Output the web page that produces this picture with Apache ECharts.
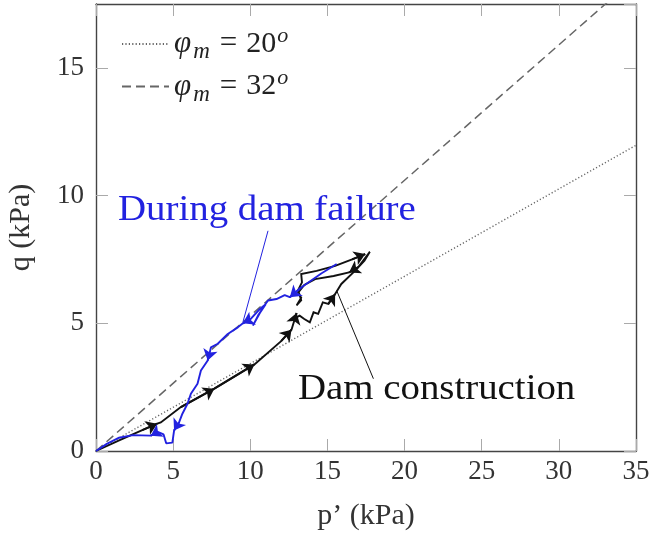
<!DOCTYPE html>
<html><head><meta charset="utf-8">
<script src="https://cdn.jsdelivr.net/npm/echarts@6/dist/echarts.min.js"></script>
<style>html,body{margin:0;padding:0;background:#fff}#c{width:652px;height:533px}</style>
</head><body><div id="c"></div>
<script>
// ---- data ----
const xTickValues = [0, 5, 10, 15, 20, 25, 30, 35];
const yTickValues = [0, 5, 10, 15];
const phiAngles = ['20', '32'];
const phi20Line = [[0, 0], [35, 11.97]];
const phi32Line = [[0, 0], [35, 18.55]];

const constructionP = [0, 1.5, 3.0, 3.97, 4.2, 5.5, 7.67, 10.27, 12.0, 12.67, 12.85, 13.0, 12.9, 13.2, 13.5, 13.86, 14.1, 14.4, 14.7, 15.06, 15.5, 15.9, 16.8, 17.4, 17.75, 17.0, 16.4, 15.4, 14.2, 13.5, 13.1, 13.3, 13.0, 13.3, 13.1, 13.35, 13.3, 14.3, 15.5, 16.6, 17.45];
const constructionQ = [0, 0.42, 0.82, 1.07, 1.12, 1.72, 2.44, 3.39, 4.3, 4.75, 5.1, 5.4, 5.2, 5.3, 5.17, 5.04, 5.43, 5.37, 5.82, 5.76, 6.15, 6.54, 7.06, 7.45, 7.8, 7.2, 6.99, 6.85, 6.73, 6.5, 6.2, 6.0, 5.7, 5.9, 6.3, 6.6, 6.93, 7.05, 7.25, 7.5, 7.71];
const constructionArrowIdx = [3, 6, 7, 9, 11, 20, 26, 40];

const failureP = [15.6, 14.6, 13.3, 12.56, 12.23, 11.7, 11.15, 10.8, 10.17, 10.5, 11.0, 10.6, 10.0, 9.52, 9.19, 8.54, 7.89, 7.45, 7.35, 7.24, 6.8, 6.58, 6.15, 5.93, 5.6, 5.39, 5.06, 4.95, 4.55, 4.38, 4.0, 3.55, 2.4, 1.5, 0.7, 0];
const failureQ = [7.32, 6.95, 6.4, 6.02, 6.1, 5.95, 5.89, 5.6, 4.91, 5.3, 5.75, 5.55, 5.15, 5.0, 4.84, 4.58, 4.2, 4.06, 3.8, 3.54, 3.15, 2.63, 2.24, 1.85, 1.46, 1.13, 0.8, 0.33, 0.3, 0.65, 0.75, 0.6, 0.62, 0.52, 0.28, 0];
const failureArrowIdx = [3, 13, 19, 26, 31];

const failureLeader = [[11.15, 8.62], [9.52, 5.04]];
const constructionLeader = [[17.98, 2.83], [15.6, 6.28]];

const failureLabel = 'During dam failure';
const constructionLabel = 'Dam construction';

// ---- build ----
const zip = (a, b) => a.map((v, i) => [v, b[i]]);
const constructionPath = zip(constructionP, constructionQ);
const failurePath = zip(failureP, failureQ);
const arrowSegs = (path, idx) => idx.map(i => ({ coords: [path[i - 1], path[i]] }));

const FONT = 'Liberation Serif';
const BLUE = '#2222e0';
const BLACK = '#111';
const seriesNames = phiAngles.map(a => 'phi' + a);

const axisCommonX = {
  type: 'value', min: 0, max: 35, interval: 5,
  axisLine: { onZero: false, lineStyle: { color: '#444', width: 1.4 } },
  axisTick: { inside: true, length: 12, lineStyle: { color: '#aaa', width: 1 } },
  splitLine: { show: false }
};
const axisCommonY = {
  type: 'value', min: 0, max: 17.5, interval: 5,
  axisLine: { onZero: false, lineStyle: { color: '#444', width: 1.4 } },
  axisTick: { inside: true, length: 12, lineStyle: { color: '#aaa', width: 1 } },
  splitLine: { show: false }
};

const chart = echarts.init(document.getElementById('c'));
chart.setOption({
  animation: false,
  backgroundColor: '#fff',
  grid: { left: 96, right: 16, top: 4, bottom: 82, containLabel: false, outerBoundsMode: 'none' },
  legend: {
    orient: 'vertical', left: 116, top: 20,
    itemWidth: 47, itemHeight: 14, itemGap: 4,
    data: seriesNames,
    itemStyle: { opacity: 0 },
    formatter: name => {
      const a = phiAngles[seriesNames.indexOf(name)];
      return '{i|φ}{s|m}{e|=}{n|' + a + '}{p|o}';
    },
    textStyle: {
      color: '#222',
      rich: {
        i: { fontFamily: FONT, fontStyle: 'italic', fontSize: 31, color: '#222' },
        s: { fontFamily: FONT, fontStyle: 'italic', fontSize: 23, color: '#222', padding: [16, 0, 0, 2] },
        e: { fontFamily: FONT, fontSize: 31, color: '#222', padding: [0, 9, 0, 10] },
        n: { fontFamily: FONT, fontSize: 30, color: '#222' },
        p: { fontFamily: FONT, fontStyle: 'italic', fontSize: 22, color: '#222', padding: [0, 0, 16, 1] }
      }
    }
  },
  xAxis: [
    Object.assign({}, axisCommonX, {
      position: 'bottom',
      axisLabel: { fontFamily: FONT, fontSize: 27, color: '#333', margin: 7,
        formatter: v => xTickValues.includes(v) ? String(v) : '' },
      name: 'p’ (kPa)', nameLocation: 'middle', nameGap: 50,
      nameTextStyle: { fontFamily: FONT, fontSize: 30, color: '#333' }
    }),
    Object.assign({}, axisCommonX, { position: 'top', axisLabel: { show: false } })
  ],
  yAxis: [
    Object.assign({}, axisCommonY, {
      position: 'left',
      axisLabel: { fontFamily: FONT, fontSize: 27, color: '#333', margin: 12, showMaxLabel: false,
        formatter: v => yTickValues.includes(v) ? String(v) : '' },
      name: 'q (kPa)', nameLocation: 'middle', nameGap: 60, nameRotate: 90,
      nameTextStyle: { fontFamily: FONT, fontSize: 30, color: '#333' }
    }),
    Object.assign({}, axisCommonY, { position: 'right', axisLabel: { show: false } })
  ],
  series: [
    { name: seriesNames[0], type: 'line', data: phi20Line, symbol: 'none', silent: true, z: 1,
      itemStyle: { color: '#666' },
      lineStyle: { color: '#666', width: 1.4, type: [1.2, 2.2] } },
    { name: seriesNames[1], type: 'line', data: phi32Line, symbol: 'none', silent: true, z: 1,
      itemStyle: { color: '#666' },
      lineStyle: { color: '#666', width: 1.5, type: [9, 5] } },
    { type: 'line', data: constructionPath, symbol: 'none', z: 3,
      lineStyle: { color: BLACK, width: 1.9, join: 'miter' } },
    { type: 'lines', coordinateSystem: 'cartesian2d', data: arrowSegs(constructionPath, constructionArrowIdx),
      symbol: ['none', 'arrow'], symbolSize: 11, z: 4,
      lineStyle: { color: BLACK, width: 1.9, opacity: 1 } },
    { type: 'line', data: failurePath, symbol: 'none', z: 5,
      lineStyle: { color: BLUE, width: 1.9 } },
    { type: 'lines', coordinateSystem: 'cartesian2d', data: arrowSegs(failurePath, failureArrowIdx),
      symbol: ['none', 'arrow'], symbolSize: 11, z: 6,
      lineStyle: { color: BLUE, width: 1.9, opacity: 1 } },
    { type: 'line', data: failureLeader, symbol: 'none', z: 6,
      lineStyle: { color: BLUE, width: 1 } },
    { type: 'line', data: constructionLeader, symbol: 'none', z: 6,
      lineStyle: { color: BLACK, width: 1 } }
  ],
  graphic: [
    { type: 'text', x: 118, y: 211, scaleX: 1.11, z: 10,
      style: { text: failureLabel, font: '35px "Liberation Serif"', fill: BLUE,
        textAlign: 'left', textVerticalAlign: 'middle' } },
    { type: 'text', x: 298, y: 390, scaleX: 1.11, z: 10,
      style: { text: constructionLabel, font: '35px "Liberation Serif"', fill: BLACK,
        textAlign: 'left', textVerticalAlign: 'middle' } }
  ]
});
</script></body></html>
